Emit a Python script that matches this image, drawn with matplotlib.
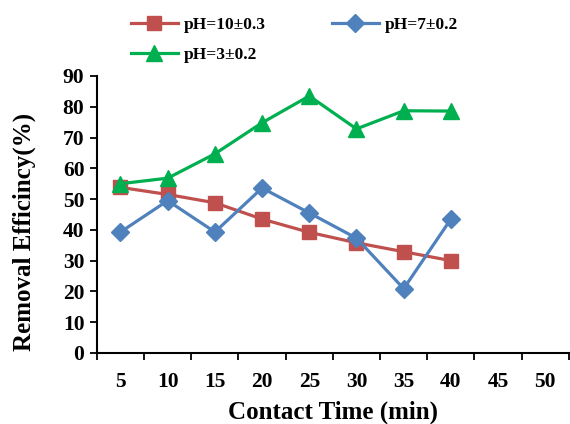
import matplotlib
matplotlib.use('Agg')
import matplotlib.pyplot as plt
import numpy as np

# Data
time_min = [5, 10, 15, 20, 25, 30, 35, 40]
ph10 = [53.8, 51.5, 48.8, 43.5, 39.2, 35.8, 32.9, 30.0]
ph7 = [39.3, 49.5, 39.3, 53.6, 45.5, 37.3, 20.9, 43.5]
ph3 = [55.0, 56.8, 64.7, 74.8, 83.5, 72.8, 78.7, 78.6]
x_labels = [5, 10, 15, 20, 25, 30, 35, 40, 45, 50]
y_ticks = np.arange(0, 91, 10)

red = '#C0504D'
blue = '#4F81BD'
green = '#00B050'

plt.rcParams['font.family'] = ['Liberation Serif', 'DejaVu Serif']
plt.rcParams['font.weight'] = 'bold'

fig = plt.figure(figsize=(5.7, 4.24), dpi=100)
ax = fig.add_axes([0.170, 0.1675, 0.828, 0.6533])

l10, = ax.plot(time_min, ph10, color=red, lw=2.3, marker='s', ms=10, label='pH=10±0.3')
l7, = ax.plot(time_min, ph7, color=blue, lw=2.3, marker='D', ms=9, label='pH=7±0.2')
l3, = ax.plot(time_min, ph3, color=green, lw=2.3, marker='^', ms=11, label='pH=3±0.2')

ax.set_xlim(2.5, 52.5)
ax.set_ylim(0, 90)
ax.set_yticks(y_ticks)
ax.set_xticks(np.arange(2.5, 53, 5))
ax.set_xticklabels([])
ax.set_xticks(x_labels, minor=True)
ax.set_xticklabels([str(v) for v in x_labels], minor=True)
ax.tick_params(axis='x', which='minor', length=0, pad=14, labelsize=15.5)
ax.tick_params(axis='x', which='major', length=5, width=1.3, direction='out')
ax.tick_params(axis='y', length=5, width=1.3, direction='out', labelsize=15.5, pad=4)

for side in ['top', 'right']:
    ax.spines[side].set_visible(False)
for side in ['left', 'bottom']:
    ax.spines[side].set_linewidth(1.5)

ax.set_xlabel('Contact Time (min)', fontsize=18, fontweight='bold', labelpad=6)
ax.set_ylabel('Removal Efficincy(%)', fontsize=18, fontweight='bold')
ax.yaxis.set_label_coords(-0.128, 0.437)

fig.legend([l10, l3, l7], ['pH=10±0.3', 'pH=3±0.2', 'pH=7±0.2'],
           loc='upper left', bbox_to_anchor=(0.2025, 0.998), ncol=2, frameon=False,
           fontsize=12.5, handlelength=2.7, columnspacing=3.8, labelspacing=0.8,
           handletextpad=0.35)

fig.savefig('out.png', dpi=100)
